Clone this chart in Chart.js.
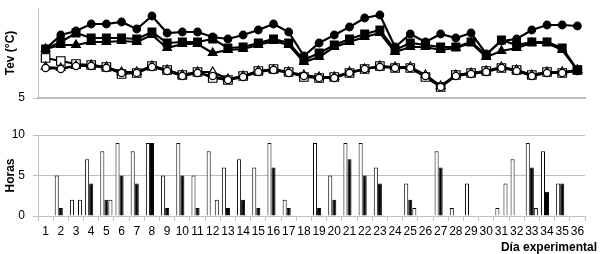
<!DOCTYPE html>
<html>
<head>
<meta charset="utf-8">
<script src="https://cdn.jsdelivr.net/npm/chart.js@4.4.1/dist/chart.umd.min.js"></script>
<style>
    body { margin: 0; background: #fff; }
    #wrap { position: relative; width: 600px; height: 254px; overflow: hidden; }
    #arriba { position: absolute; left: 0; top: -8px; width: 600px; height: 122px; }
    #abajo { position: absolute; left: 0; top: 110px; width: 600px; height: 144px; }
    #xtitulo { position: absolute; right: 3px; top: 240px; font: bold 12px "Liberation Sans"; line-height: 14px; color: #000; }
</style>
</head>
<body>
<div id="wrap">
    <div id="arriba"><canvas id="tevChart"></canvas></div>
    <div id="abajo"><canvas id="horasChart"></canvas></div>
    <div id="xtitulo">Día experimental</div>
</div>
<script>
var dias = ['1', '2', '3', '4', '5', '6', '7', '8', '9', '10', '11', '12', '13', '14', '15', '16', '17', '18',
    '19', '20', '21', '22', '23', '24', '25', '26', '27', '28', '29', '30', '31', '32', '33', '34', '35', '36'];

// Tev (°C), series rellenas
var tevCirculo = [9.9, 11.3, 11.7, 12.4, 12.4, 12.6, 11.9, 13.2, 11.5, 11.6, 11.6, 11.1, 10.9, 11.3, 11.8, 12.4, 11.6, 9.2,
    10.5, 11.3, 12.1, 13.0, 13.3, 10.1, 11.4, 10.6, 11.4, 11.0, 11.5, 9.4, 10.7, 10.9, 11.8, 12.3, 12.3, 12.2];
var tevCuadrado = [9.9, 10.6, 11.5, 11.0, 11.0, 11.0, 10.9, 11.6, 10.5, 10.6, 10.6, 10.9, 10.0, 10.1, 10.5, 10.9, 10.5, 8.8,
    9.5, 10.3, 10.9, 11.4, 11.8, 9.8, 10.5, 10.3, 10.1, 10.1, 10.6, 9.3, 10.8, 10.3, 10.6, 10.6, 10.0, 7.8];
var tevTriangulo = [9.9, 10.3, 10.3, 10.6, 10.6, 10.7, 10.6, 11.3, 10.0, 10.4, 10.4, 9.5, 9.8, 9.9, 10.3, 10.7, 10.3, 8.6,
    9.1, 10.1, 10.6, 11.1, 11.5, 9.6, 10.1, 10.1, 9.8, 10.0, 10.5, 9.1, 9.7, 10.0, 10.5, 10.5, 9.8, 7.8];
// Tev (°C), series abiertas
var tevCirculoAb = [8.0, 7.9, 8.2, 8.2, 8.0, 7.5, 7.5, 8.1, 7.7, 7.2, 7.5, 7.2, 6.8, 7.1, 7.6, 7.8, 7.5, 7.2,
    7.0, 7.0, 7.5, 7.9, 8.1, 8.0, 8.0, 7.2, 6.1, 7.2, 7.4, 7.6, 8.0, 7.7, 7.2, 7.5, 7.5, 7.7];
var tevCuadradoAb = [9.0, 8.7, 8.4, 8.3, 8.1, 7.4, 7.5, 8.2, 7.8, 7.3, 7.6, 7.0, 6.8, 7.2, 7.7, 7.9, 7.6, 7.1,
    7.0, 7.1, 7.5, 7.9, 8.2, 8.0, 8.0, 7.1, 6.1, 7.3, 7.5, 7.7, 8.0, 7.8, 7.3, 7.6, 7.5, 7.8];
var tevTrianguloAb = [8.1, 8.0, 8.2, 8.3, 8.1, 7.6, 7.6, 8.2, 7.8, 7.3, 7.6, 7.6, 6.9, 7.2, 7.7, 7.8, 7.6, 7.3,
    7.1, 7.1, 7.6, 7.9, 8.2, 8.1, 8.1, 7.3, 6.2, 7.3, 7.5, 7.7, 8.1, 7.8, 7.3, 7.6, 7.6, 7.8];

// Horas
var horasA = [null, 5, 2, 7, 8, 9, 8, 9, 5, 9, 5, 8, 6, 7, 6, 9, 2, null,
    9, 5, 9, 9, 6, null, 4, null, 8, 1, 4, null, 1, 7, 9, 8, 4, null];
var horasB = [null, 1, null, 4, 2, 5, 4, 9, 1, 5, 1, null, 1, 2, 1, 6, 1, null,
    1, 2, 7, 5, 4, null, 2, null, 6, null, null, null, null, null, 6, 3, 4, null];
var horasC = [null, null, 2, null, 2, null, null, null, null, null, null, 2, null, null, null, null, null, null,
    null, null, null, null, null, null, 1, null, null, null, null, null, 4, null, 1, null, null, null];

var fuente = 'Liberation Sans';
var gris = '#bfbfbf';

function linea(data, estilo, relleno, radio) {
    return {
        data: data,
        borderColor: '#000',
        borderWidth: 2.2,
        pointStyle: estilo,
        pointRadius: radio,
        pointBorderWidth: 1.2,
        pointBorderColor: '#000',
        pointBackgroundColor: relleno,
        tension: 0
    };
}

new Chart(document.getElementById('tevChart').getContext('2d'), {
    type: 'line',
    data: {
        labels: dias,
        datasets: [
            linea(tevCirculo, 'circle', '#000', 3.8),
            linea(tevCuadrado, 'rect', '#000', 5.5),
            linea(tevTriangulo, 'triangle', '#000', 5),
            linea(tevCirculoAb, 'circle', '#fff', 3.6),
            linea(tevTrianguloAb, 'triangle', '#fff', 5),
            linea(tevCuadradoAb, 'rect', '#fff', 6)
        ]
    },
    options: {
        responsive: true,
        maintainAspectRatio: false,
        animation: false,
        layout: { padding: { left: 0, right: 15, top: 16, bottom: 0 } },
        scales: {
            x: {
                offset: true,
                ticks: { display: false },
                grid: { display: false },
                border: { color: gris, width: 2 },
                afterFit: function (s) { s.height = 16; }
            },
            y: {
                min: 5,
                max: 14,
                afterBuildTicks: function (s) { s.ticks = [{ value: 5 }]; },
                ticks: { color: '#000', padding: 8, font: { family: fuente, size: 12 } },
                grid: { drawOnChartArea: false, tickLength: 5, color: gris },
                border: { color: gris },
                title: {
                    display: true,
                    text: 'Tev (°C)',
                    color: '#000',
                    padding: { top: 3, bottom: 0 },
                    font: { family: fuente, size: 12, weight: 'bold' }
                },
                afterFit: function (s) { s.width = 38; }
            }
        },
        plugins: { legend: { display: false }, tooltip: { enabled: false } }
    }
});

function barra(data, relleno) {
    return {
        data: data,
        backgroundColor: relleno,
        borderColor: '#000',
        borderWidth: 1,
        categoryPercentage: 0.8,
        barPercentage: 1.0
    };
}

new Chart(document.getElementById('horasChart').getContext('2d'), {
    type: 'bar',
    data: {
        labels: dias,
        datasets: [
            barra(horasA, '#fff'),
            barra(horasB, '#000'),
            barra(horasC, '#fff')
        ]
    },
    options: {
        responsive: true,
        maintainAspectRatio: false,
        animation: false,
        layout: { padding: { left: 0, right: 15, top: 25, bottom: 0 } },
        scales: {
            x: {
                ticks: { color: '#000', autoSkip: false, maxRotation: 0, padding: 3, font: { family: fuente, size: 12 } },
                grid: { offset: true, drawOnChartArea: false, tickLength: 5, color: gris },
                border: { color: gris },
                afterFit: function (s) { s.height = 38; }
            },
            y: {
                min: 0,
                max: 10,
                ticks: { stepSize: 5, color: '#000', padding: 8, font: { family: fuente, size: 12 } },
                grid: { tickLength: 5, color: gris },
                border: { color: gris },
                title: {
                    display: true,
                    text: 'Horas',
                    color: '#000',
                    padding: { top: 3, bottom: 0 },
                    font: { family: fuente, size: 12, weight: 'bold' }
                },
                afterFit: function (s) { s.width = 38; }
            }
        },
        plugins: { legend: { display: false }, tooltip: { enabled: false } }
    }
});
</script>
</body>
</html>
